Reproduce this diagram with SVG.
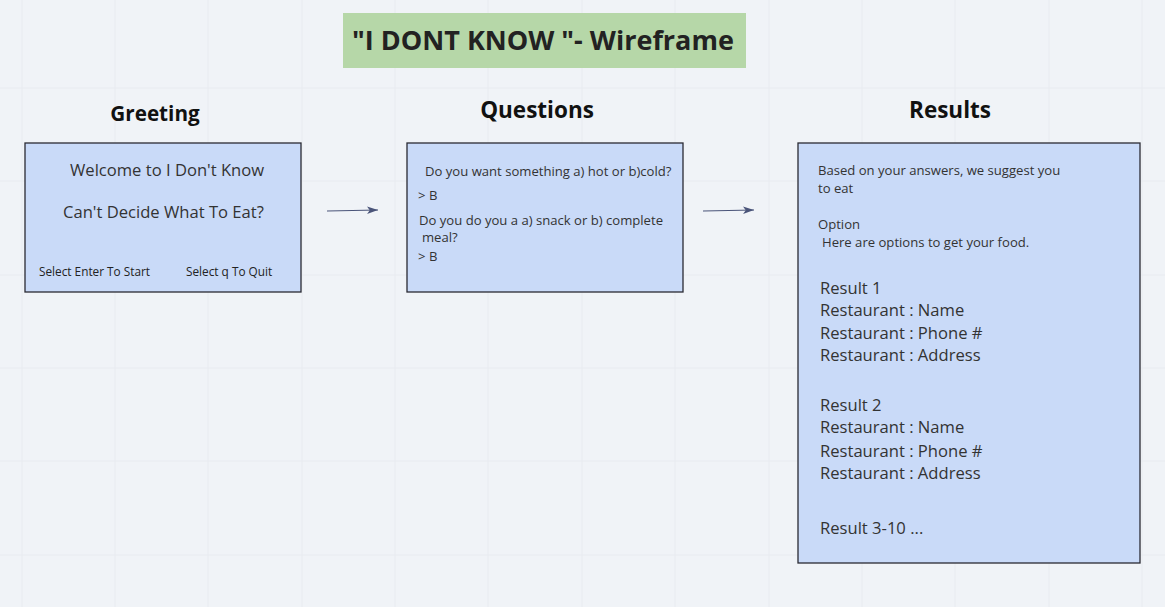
<svg xmlns="http://www.w3.org/2000/svg" width="1165" height="607" viewBox="0 0 1165 607">
<defs>
<marker id="arr" viewBox="0 0 10 10" refX="10" refY="5" markerWidth="11" markerHeight="11" markerUnits="userSpaceOnUse" orient="auto">
<path d="M0,1.5 L10,5 L0,8.5 L2.5,5 Z" fill="#4a5479"/>
</marker>
</defs>
<style>
text{font-family:"Open Sans","Noto Sans","Liberation Sans",sans-serif;fill:#222}
.h{font-weight:bold;font-size:22.5px;text-anchor:middle;fill:#111}
.box{fill:#c9daf8;stroke:#2a2a33;stroke-width:1.3}
.grid{stroke:#e8ebf0;stroke-width:1}
.m{font-size:16.6px;fill:#333}
.s{font-size:11.8px}
.q{font-size:13.1px;fill:#333}
.conn{stroke:#4a5479;stroke-width:1.2;fill:none}
</style>
<rect width="1165" height="607" fill="#f0f3f7"/>
<g id="grid" class="grid">
<path d="M22,0V607M115,0V607M208,0V607M302,0V607M395,0V607M488,0V607M582,0V607M675,0V607M769,0V607M862,0V607M955,0V607M1049,0V607M1142,0V607"/>
<path d="M0,88H1165M0,181H1165M0,275H1165M0,368H1165M0,461H1165M0,555H1165"/>
</g>
<g id="title">
<rect x="343" y="13" width="403" height="55" fill="#b6d7a8"/>
<text x="543" y="50" text-anchor="middle" font-weight="bold" font-size="27" fill="#111">"I DONT KNOW "- Wireframe</text>
</g>
<g id="greeting">
<text class="h" x="155" y="121" style="font-size:20.7px">Greeting</text>
<rect class="box" x="25" y="143" width="276" height="149"/>
<text class="m" x="70" y="176">Welcome to I Don't Know</text>
<text class="m" x="63" y="218">Can't Decide What To Eat?</text>
<text class="s" x="39" y="276">Select Enter To Start</text>
<text class="s" x="186" y="276">Select q To Quit</text>
</g>
<g id="questions">
<text class="h" x="537" y="118">Questions</text>
<rect class="box" x="407" y="143" width="276" height="149"/>
<text class="q" x="425" y="176">Do you want something a) hot or b)cold?</text>
<text class="q" x="418" y="200">&gt; B</text>
<text class="q" x="419" y="225">Do you do you a a) snack or b) complete</text>
<text class="q" x="422" y="242">meal?</text>
<text class="q" x="418" y="261">&gt; B</text>
</g>
<g id="results">
<text class="h" x="950" y="118">Results</text>
<rect class="box" x="798" y="143" width="342" height="420"/>
<text class="q" x="818" y="175">Based on your answers, we suggest you</text>
<text class="q" x="818" y="193">to eat</text>
<text class="q" x="818" y="229">Option</text>
<text class="q" x="822" y="247">Here are options to get your food.</text>
<text class="m" x="820" y="294">Result 1</text>
<text class="m" x="820" y="316">Restaurant : Name</text>
<text class="m" x="820" y="339">Restaurant : Phone #</text>
<text class="m" x="820" y="361">Restaurant : Address</text>
<text class="m" x="820" y="411">Result 2</text>
<text class="m" x="820" y="433">Restaurant : Name</text>
<text class="m" x="820" y="457">Restaurant : Phone #</text>
<text class="m" x="820" y="479">Restaurant : Address</text>
<text class="m" x="820" y="534">Result 3-10 ...</text>
</g>
<g id="connectors">
<path class="conn" d="M327,211 L378,210" marker-end="url(#arr)"/>
<path class="conn" d="M703,211 L754,210" marker-end="url(#arr)"/>
</g>
</svg>
